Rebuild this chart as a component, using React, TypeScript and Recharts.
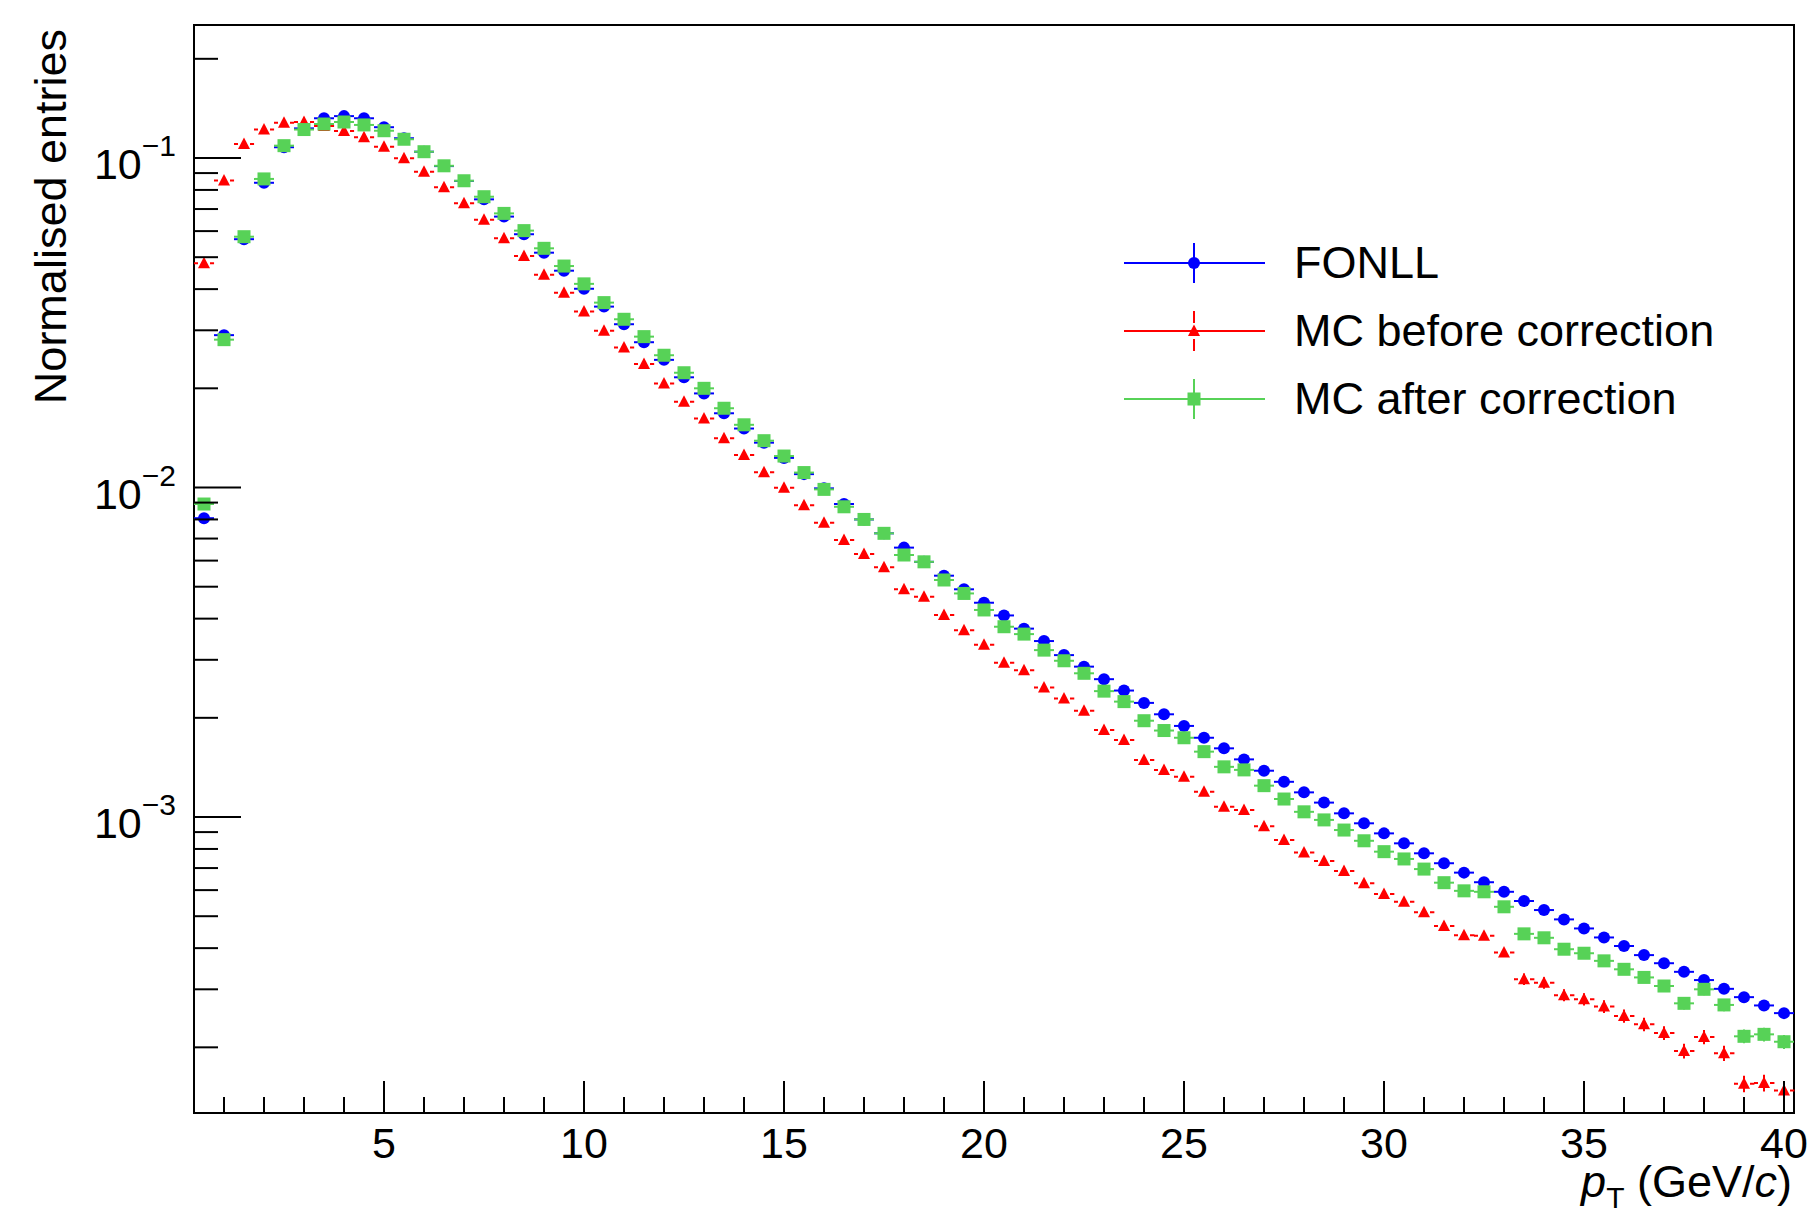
import React from 'react';
import { ComposedChart, Scatter, XAxis, YAxis, ErrorBar, ReferenceArea } from 'recharts';

// bin centres in pT (GeV/c), bin width 0.5
const ptBins = [
  0.5, 1, 1.5, 2, 2.5, 3, 3.5, 4, 4.5, 5, 5.5, 6, 6.5, 7, 7.5, 8, 8.5, 9, 9.5, 10,
  10.5, 11, 11.5, 12, 12.5, 13, 13.5, 14, 14.5, 15, 15.5, 16, 16.5, 17, 17.5, 18, 18.5, 19, 19.5, 20,
  20.5, 21, 21.5, 22, 22.5, 23, 23.5, 24, 24.5, 25, 25.5, 26, 26.5, 27, 27.5, 28, 28.5, 29, 29.5, 30,
  30.5, 31, 31.5, 32, 32.5, 33, 33.5, 34, 34.5, 35, 35.5, 36, 36.5, 37, 37.5, 38, 38.5, 39, 39.5, 40,
];
const binHalfWidth = 0.25;

const fonll = [
  0.00807, 0.029, 0.0567, 0.0841, 0.1078, 0.123, 0.132, 0.134, 0.132, 0.124,
  0.1148, 0.1045, 0.0945, 0.0852, 0.0749, 0.0664, 0.0587, 0.0516, 0.0455, 0.0401,
  0.0354, 0.0313, 0.0276, 0.0244, 0.0216, 0.0193, 0.0168, 0.0151, 0.01368, 0.0123,
  0.01098, 0.00994, 0.00891, 0.008, 0.00726, 0.00657, 0.00595, 0.0054, 0.00491, 0.00447,
  0.00409, 0.00373, 0.00342, 0.0031, 0.00286, 0.00262, 0.00242, 0.00222, 0.00205, 0.00189,
  0.00174, 0.001616, 0.001496, 0.001382, 0.001279, 0.001188, 0.001106, 0.001026, 0.000957, 0.000892,
  0.000832, 0.000776, 0.000724, 0.000678, 0.000634, 0.000593, 0.000556, 0.000522, 0.000489, 0.000459,
  0.000431, 0.000406, 0.000381, 0.00036, 0.000339, 0.00032, 0.000301, 0.000284, 0.000268, 0.000254,
];

const mcBefore = [
  0.0479, 0.0854, 0.1103, 0.122, 0.128, 0.1286, 0.125, 0.1208, 0.1156, 0.1082,
  0.0998, 0.0909, 0.0815, 0.0729, 0.0649, 0.0571, 0.0504, 0.0442, 0.039, 0.0342,
  0.0299, 0.0266, 0.0237, 0.0207, 0.0182, 0.0162, 0.0141, 0.01256, 0.01112, 0.00999,
  0.00883, 0.00782, 0.00693, 0.00628, 0.00573, 0.00491, 0.00466, 0.0041, 0.00369, 0.00333,
  0.00294, 0.00279, 0.00247, 0.00229, 0.0021, 0.001837, 0.001714, 0.00149, 0.00139, 0.001326,
  0.001193, 0.001074, 0.00105, 0.000938, 0.000851, 0.00078, 0.000735, 0.000686, 0.000629, 0.000584,
  0.000553, 0.000514, 0.000467, 0.000438, 0.000436, 0.000388, 0.000322, 0.000314, 0.000288, 0.00028,
  0.000266, 0.000249, 0.000235, 0.000221, 0.000195, 0.000215, 0.000192, 0.000155, 0.000156, 0.000148,
];

const mcAfter = [
  0.00891, 0.0281, 0.0577, 0.0864, 0.109, 0.122, 0.1268, 0.1286, 0.126, 0.121,
  0.114, 0.1045, 0.0947, 0.0853, 0.0763, 0.0679, 0.0602, 0.0532, 0.047, 0.0415,
  0.0364, 0.0324, 0.0287, 0.0252, 0.0223, 0.02, 0.0174, 0.0155, 0.01387, 0.01246,
  0.0111, 0.00987, 0.00874, 0.008, 0.00726, 0.00624, 0.00595, 0.00524, 0.00477, 0.00425,
  0.00378, 0.00359, 0.00321, 0.00298, 0.00273, 0.00241, 0.00224, 0.00196, 0.00183, 0.00174,
  0.001579, 0.00142, 0.00139, 0.001245, 0.001134, 0.001037, 0.00098, 0.000913, 0.000847, 0.000785,
  0.000746, 0.000695, 0.000632, 0.000597, 0.000593, 0.000534, 0.000442, 0.00043, 0.000397, 0.000386,
  0.000366, 0.000345, 0.000326, 0.000307, 0.000272, 0.0003, 0.000269, 0.000216, 0.000219, 0.000208,
];

// relative stat. errors, only visible beyond the markers in the tail (pT >= 33.5)
const tailStart = 33.5;
const mcBeforeTailRelErr = [0.04, 0.04, 0.042, 0.043, 0.045, 0.046, 0.047, 0.048, 0.052, 0.05, 0.053, 0.058, 0.058, 0.06];
const mcAfterTailRelErr = [0.033, 0.034, 0.035, 0.036, 0.037, 0.038, 0.039, 0.04, 0.043, 0.04, 0.043, 0.048, 0.048, 0.049];

const xDomain = [0.25, 40.25];
const yDomain = [1.264e-4, 0.2533];

const xMajorTicks = [5, 10, 15, 20, 25, 30, 35, 40];
const xTicks = Array.from({ length: 40 }, (_, i) => i + 1);

const yMajorTicks = [0.001, 0.01, 0.1];
const yMajorLabels = ['−3', '−2', '−1'];
const yTicks = [
  2e-4, 3e-4, 4e-4, 5e-4, 6e-4, 7e-4, 8e-4, 9e-4, 1e-3,
  2e-3, 3e-3, 4e-3, 5e-3, 6e-3, 7e-3, 8e-3, 9e-3, 1e-2,
  2e-2, 3e-2, 4e-2, 5e-2, 6e-2, 7e-2, 8e-2, 9e-2, 1e-1, 2e-1,
];

const BLUE = '#0000ff';
const RED = '#ff0000';
const GREEN = '#57d257';
const FONT = '"Liberation Sans", Arial, Helvetica, sans-serif';

const toPoints = (vals: number[], tailErr?: number[]) =>
  ptBins.map((x, i) => {
    const ti = ptBins.indexOf(tailStart);
    const rel = tailErr && i >= ti ? tailErr[i - ti] : 0;
    return { x, y: vals[i], xErr: binHalfWidth, yErr: vals[i] * rel };
  });

const fonllData = toPoints(fonll);
const beforeData = toPoints(mcBefore, mcBeforeTailRelErr);
const afterData = toPoints(mcAfter, mcAfterTailRelErr);

const Circle = (props: any) => <circle cx={props.cx} cy={props.cy} r={6} fill={BLUE} />;
const Triangle = (props: any) => {
  const { cx, cy } = props;
  return <polygon points={`${cx},${cy - 6.5} ${cx - 6},${cy + 5} ${cx + 6},${cy + 5}`} fill={RED} />;
};
const Square = (props: any) => <rect x={props.cx - 6.5} y={props.cy - 6.5} width={13} height={13} fill={GREEN} />;

const XTick = (props: any) => {
  const { x, y, payload } = props;
  const major = xMajorTicks.includes(payload.value);
  return (
    <g>
      <line x1={x} x2={x} y1={y} y2={y - (major ? 32 : 16)} stroke="#000" strokeWidth={2} />
      {major && (
        <text x={x} y={y + 45} textAnchor="middle" fontSize={43} fontFamily={FONT} fill="#000">
          {payload.value}
        </text>
      )}
    </g>
  );
};

const YTick = (props: any) => {
  const { x, y, payload } = props;
  const idx = yMajorTicks.findIndex((t) => Math.abs(t - payload.value) / t < 1e-6);
  const major = idx >= 0;
  return (
    <g>
      <line x1={x} x2={x + (major ? 47 : 24)} y1={y} y2={y} stroke="#000" strokeWidth={2} />
      {major && (
        <text x={x - 18} y={y + 21} textAnchor="end" fontFamily={FONT} fill="#000">
          <tspan fontSize={43}>10</tspan>
          <tspan fontSize={30} dy={-23}>{yMajorLabels[idx]}</tspan>
        </text>
      )}
    </g>
  );
};

const YTitle = (props: any) => {
  const { viewBox } = props;
  const x = viewBox.x + 66;
  const y = viewBox.y + 4;
  return (
    <text x={x} y={y} transform={`rotate(-90 ${x} ${y})`} textAnchor="end" fontSize={45} fontFamily={FONT} fill="#000">
      Normalised entries
    </text>
  );
};

const XTitle = (props: any) => {
  const { viewBox } = props;
  return (
    <text x={viewBox.x + viewBox.width - 2} y={viewBox.y + 84} textAnchor="end" fontSize={45} fontFamily={FONT} fill="#000">
      <tspan fontStyle="italic">p</tspan>
      <tspan fontSize={30} dy={11}>T</tspan>
      <tspan dy={-11}> (GeV/</tspan>
      <tspan fontStyle="italic">c</tspan>
      <tspan>)</tspan>
    </text>
  );
};

const legendItems = [
  { name: 'FONLL', color: BLUE, marker: 'circle' },
  { name: 'MC before correction', color: RED, marker: 'triangle' },
  { name: 'MC after correction', color: GREEN, marker: 'square' },
];

const LegendBox = () => (
  <div style={{ position: 'absolute', left: 1124, top: 229, fontFamily: FONT }}>
    {legendItems.map((item) => (
      <div key={item.name} style={{ display: 'flex', alignItems: 'center', height: 68 }}>
        <svg width={141} height={68}>
          <line x1={0} x2={141} y1={34} y2={34} stroke={item.color} strokeWidth={2} />
          <line
            x1={70} x2={70} y1={14} y2={54}
            stroke={item.color} strokeWidth={2}
            strokeDasharray={item.marker === 'triangle' ? '12 16' : undefined}
          />
          {item.marker === 'circle' && <circle cx={70} cy={34} r={6} fill={item.color} />}
          {item.marker === 'triangle' && <polygon points="70,27.5 64,39 76,39" fill={item.color} />}
          {item.marker === 'square' && <rect x={63.5} y={27.5} width={13} height={13} fill={item.color} />}
        </svg>
        <span style={{ marginLeft: 29, fontSize: 45, color: '#000', whiteSpace: 'nowrap' }}>{item.name}</span>
      </div>
    ))}
  </div>
);

export default function App() {
  return (
    <div style={{ position: 'absolute', left: 0, top: 0, width: 1808, height: 1215, background: '#fff' }}>
      <ComposedChart width={1808} height={1215} margin={{ top: 25, right: 14, left: 0, bottom: 0 }}>
        <XAxis
          type="number"
          dataKey="x"
          domain={xDomain}
          allowDataOverflow
          ticks={xTicks}
          interval={0}
          tick={<XTick />}
          tickSize={0}
          tickMargin={0}
          tickLine={false}
          axisLine={false}
          height={102}
          label={<XTitle />}
        />
        <YAxis
          type="number"
          dataKey="y"
          scale="log"
          domain={yDomain}
          allowDataOverflow
          ticks={yTicks}
          interval={0}
          tick={<YTick />}
          tickSize={0}
          tickMargin={0}
          tickLine={false}
          axisLine={false}
          width={194}
          label={<YTitle />}
        />
        <ReferenceArea
          x1={xDomain[0]} x2={xDomain[1]} y1={yDomain[0]} y2={yDomain[1]}
          fill="none" stroke="#000" strokeWidth={2} fillOpacity={0} ifOverflow="visible"
        />
        <Scatter name="FONLL" data={fonllData} shape={<Circle />} isAnimationActive={false}>
          <ErrorBar dataKey="xErr" direction="x" width={0} stroke={BLUE} strokeWidth={2} />
        </Scatter>
        <Scatter name="MC before correction" data={beforeData} shape={<Triangle />} isAnimationActive={false}>
          <ErrorBar dataKey="xErr" direction="x" width={0} stroke={RED} strokeWidth={2} strokeDasharray="4 12" />
          <ErrorBar dataKey="yErr" direction="y" width={0} stroke={RED} strokeWidth={2} />
        </Scatter>
        <Scatter name="MC after correction" data={afterData} shape={<Square />} isAnimationActive={false}>
          <ErrorBar dataKey="xErr" direction="x" width={0} stroke={GREEN} strokeWidth={2} />
          <ErrorBar dataKey="yErr" direction="y" width={0} stroke={GREEN} strokeWidth={2} />
        </Scatter>
      </ComposedChart>
      <LegendBox />
    </div>
  );
}
